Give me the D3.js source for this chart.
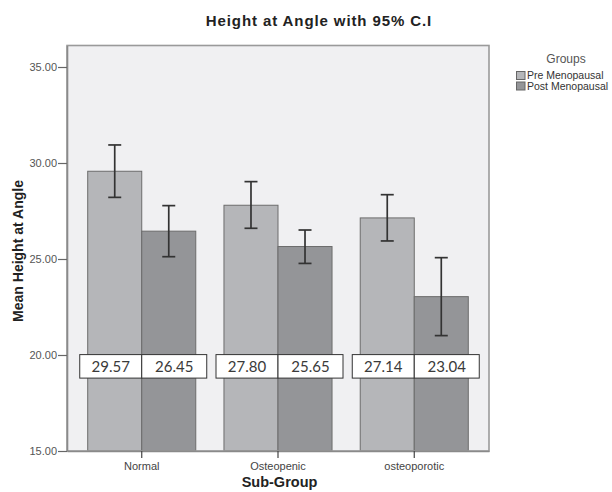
<!DOCTYPE html>
<html>
<head>
<meta charset="utf-8">
<script src="https://cdn.jsdelivr.net/npm/d3@7/dist/d3.min.js"></script>
<style>
  html, body { margin: 0; padding: 0; background: #fff; }
  svg { display: block; }
</style>
</head>
<body>
<svg id="chart" width="612" height="492"></svg>
<script>
// ---- data ----
const categories = ["Normal", "Osteopenic", "osteoporotic"];
const groups = ["Pre Menopausal", "Post Menopausal"];
const preMean = [29.57, 27.80, 27.14];
const postMean = [26.45, 25.65, 23.04];
const preLow = [28.21, 26.60, 25.94];
const preHigh = [30.94, 29.03, 28.35];
const postLow = [25.12, 24.77, 21.01];
const postHigh = [27.78, 26.51, 25.07];
const yTicks = [15, 20, 25, 30, 35];
const labelLevel = 19.5; // value level where the value boxes sit

(function () {
const rows = [];
categories.forEach((c, i) => {
  rows.push({cat: c, grp: groups[0], mean: preMean[i], lo: preLow[i], hi: preHigh[i]});
  rows.push({cat: c, grp: groups[1], mean: postMean[i], lo: postLow[i], hi: postHigh[i]});
});

const svg = d3.select("#chart");
const pL = 67, pR = 489, pT = 45.5, pB = 451;
const font = "'Liberation Sans', Arial, sans-serif";

const x = d3.scaleBand().domain(categories).range([pL, pR])
  .paddingInner(0.207).paddingOuter(0.152);
const xs = d3.scaleBand().domain(groups).range([0, x.bandwidth()]);
const y = d3.scaleLinear().domain([15, 36.12]).range([pB, pT]);
const color = d3.scaleOrdinal().domain(groups).range(["#b5b6b9", "#949598"]);

svg.append("rect").attr("width", 612).attr("height", 492).attr("fill", "#fff");

// title
svg.append("text").attr("x", 319).attr("y", 26)
  .attr("text-anchor", "middle").attr("font-family", font)
  .attr("font-weight", "bold").attr("font-size", "15px")
  .attr("letter-spacing", "0.9px").attr("fill", "#222")
  .text("Height at Angle with 95% C.I");

// plot background
svg.append("rect").attr("x", pL).attr("y", pT)
  .attr("width", pR - pL).attr("height", pB - pT)
  .attr("fill", "#f0f0f2");

// bars
svg.append("g").selectAll("rect").data(rows).join("rect")
  .attr("x", d => x(d.cat) + xs(d.grp))
  .attr("y", d => y(d.mean))
  .attr("width", xs.bandwidth())
  .attr("height", d => y(15) - y(d.mean))
  .attr("fill", d => color(d.grp))
  .attr("stroke", "#6c6c6c").attr("stroke-width", 1);

// error bars
const eb = svg.append("g").attr("stroke", "#333").attr("stroke-width", 1.7);
rows.forEach(d => {
  const cx = x(d.cat) + xs(d.grp) + xs.bandwidth() / 2;
  eb.append("line").attr("x1", cx).attr("x2", cx).attr("y1", y(d.lo)).attr("y2", y(d.hi));
  eb.append("line").attr("x1", cx - 6.5).attr("x2", cx + 6.5).attr("y1", y(d.lo)).attr("y2", y(d.lo));
  eb.append("line").attr("x1", cx - 6.5).attr("x2", cx + 6.5).attr("y1", y(d.hi)).attr("y2", y(d.hi));
});

// value boxes
const boxG = svg.append("g");
const boxTop = y(labelLevel) - 10, boxH = 23.5;
rows.forEach(d => {
  const c = x(d.cat) + x.bandwidth() / 2;
  const isPre = d.grp === groups[0];
  const bx = isPre ? c - 62 : c;
  const bw = isPre ? 62 : 65;
  boxG.append("rect").attr("x", bx).attr("y", boxTop).attr("width", bw).attr("height", boxH)
    .attr("fill", "#fff").attr("stroke", "#333").attr("stroke-width", 1);
  boxG.append("text").attr("x", bx + bw / 2).attr("y", boxTop + 17)
    .attr("text-anchor", "middle").attr("font-family", "Lato, 'Open Sans', sans-serif")
    .attr("font-size", "15px").attr("fill", "#3a3a3a")
    .text(d.mean.toFixed(2));
});

// frame
svg.append("rect").attr("x", pL).attr("y", pT)
  .attr("width", pR - pL).attr("height", pB - pT)
  .attr("fill", "none").attr("stroke", "#9a9a9a").attr("stroke-width", 1.6);

// y axis
const yAxis = svg.append("g").attr("transform", `translate(${pL},0)`)
  .call(d3.axisLeft(y).tickValues(yTicks).tickFormat(d3.format(".2f")).tickSize(9).tickSizeOuter(0));
yAxis.select(".domain").attr("stroke", "#8a8a8a").attr("stroke-width", 1.6);
yAxis.selectAll(".tick line").attr("stroke", "#666").attr("stroke-width", 1.2);
yAxis.selectAll(".tick text").attr("font-family", font).attr("font-size", "11px")
  .attr("fill", "#555").attr("x", -10);

// x axis
const xAxis = svg.append("g").attr("transform", `translate(0,${pB})`)
  .call(d3.axisBottom(x).tickSize(7).tickSizeOuter(0));
xAxis.select(".domain").attr("stroke", "#8a8a8a").attr("stroke-width", 1.6);
xAxis.selectAll(".tick line").attr("stroke", "#444").attr("stroke-width", 1.2);
xAxis.selectAll(".tick text").attr("font-family", font).attr("font-size", "11px")
  .attr("fill", "#444").attr("y", 11);

// axis titles
svg.append("text").attr("transform", "translate(23,251) rotate(-90)")
  .attr("text-anchor", "middle").attr("font-family", font)
  .attr("font-weight", "bold").attr("font-size", "14px").attr("fill", "#222")
  .text("Mean Height at Angle");
svg.append("text").attr("x", 279.5).attr("y", 487)
  .attr("text-anchor", "middle").attr("font-family", font)
  .attr("font-weight", "bold").attr("font-size", "14.5px").attr("fill", "#222")
  .text("Sub-Group");

// legend
const lg = svg.append("g");
lg.append("text").attr("x", 566).attr("y", 63).attr("text-anchor", "middle")
  .attr("font-family", font).attr("font-size", "12px").attr("fill", "#555").text("Groups");
groups.forEach((g, i) => {
  lg.append("rect").attr("x", 516.5).attr("y", 71.5 + i * 10.5).attr("width", 8.5).attr("height", 8)
    .attr("fill", color(g)).attr("stroke", "#666").attr("stroke-width", 1);
  lg.append("text").attr("x", 527).attr("y", 79 + i * 10.5)
    .attr("font-family", font).attr("font-size", "10.5px").attr("fill", "#333").text(g);
});
})();
</script>
</body>
</html>
